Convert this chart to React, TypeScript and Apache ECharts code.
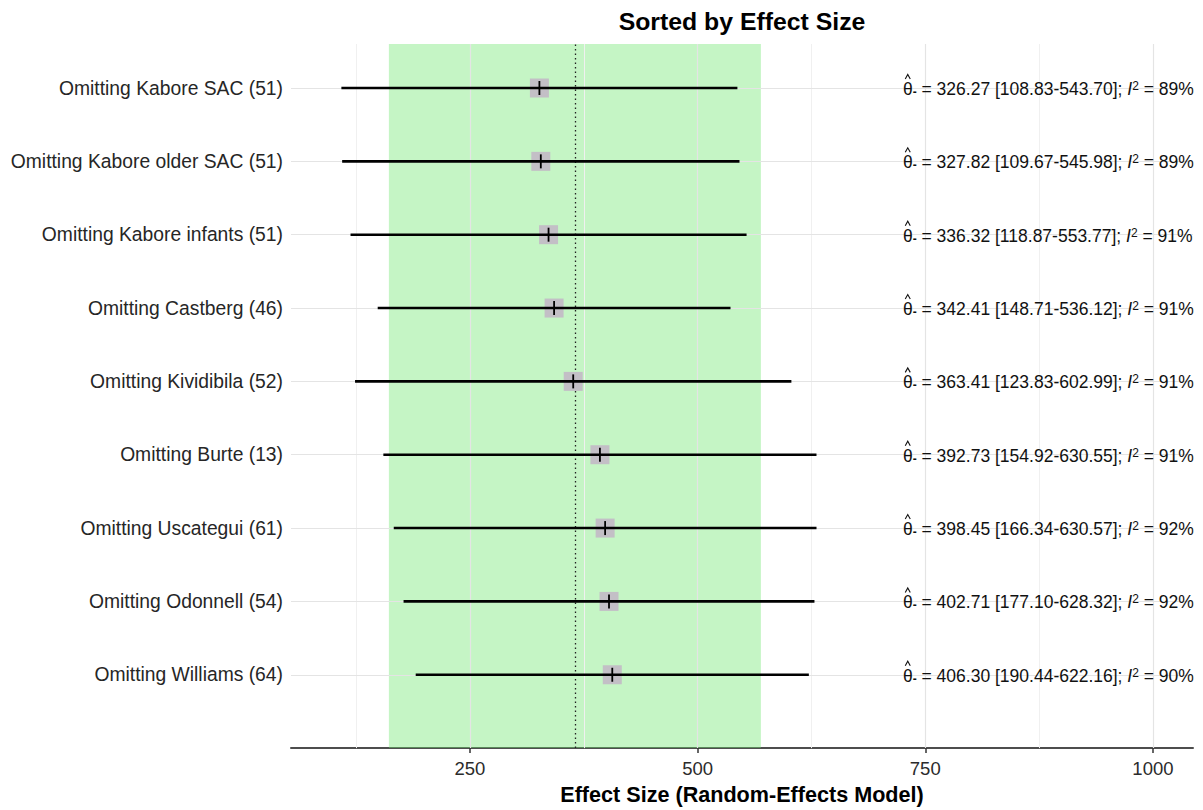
import React, { useEffect, useRef } from "react";
import * as echarts from "echarts";

// ---- data (top row first) ----
const studyLabels = [
  "Omitting Kabore SAC (51)",
  "Omitting Kabore older SAC (51)",
  "Omitting Kabore infants (51)",
  "Omitting Castberg (46)",
  "Omitting Kividibila (52)",
  "Omitting Burte (13)",
  "Omitting Uscategui (61)",
  "Omitting Odonnell (54)",
  "Omitting Williams (64)",
];
const estimates = [326.27, 327.82, 336.32, 342.41, 363.41, 392.73, 398.45, 402.71, 406.3];
const lowerCI = [108.83, 109.67, 118.87, 148.71, 123.83, 154.92, 166.34, 177.1, 190.44];
const upperCI = [543.7, 545.98, 553.77, 536.12, 602.99, 630.55, 630.57, 628.32, 622.16];
const i2Values = [89, 89, 91, 91, 91, 91, 92, 92, 90];

const xTickValues = [250, 500, 750, 1000];
const xMinorGrid = [125, 375, 625, 875];
const pooledEstimate = 366;
const bandRange = [161, 569.5];
const xRange = [53.5, 1044];
const yRange = [0, 9.6];
const annotationX = 725.5;

const FONT = '"Liberation Sans", Arial, Helvetica, sans-serif';

export default function App() {
  const ref = useRef<HTMLDivElement>(null);

  useEffect(() => {
    const chart = echarts.init(ref.current!, null, { renderer: "svg" });
    const n = studyLabels.length;
    const rowY = (i: number) => n - i;
    const labelByRow: Record<number, string> = {};
    studyLabels.forEach((l, i) => (labelByRow[rowY(i)] = l));

    const ciData = studyLabels.map((_, i) => [lowerCI[i], upperCI[i], estimates[i], rowY(i)]);
    const textData = studyLabels.map((_, i) => [annotationX, rowY(i), i]);

    const gridLineData: any[] = [
      ...xMinorGrid.map((v) => ({ xAxis: v, lineStyle: { color: "#f0f0f0", width: 1, type: "solid" } })),
      ...xTickValues.map((v) => ({ xAxis: v, lineStyle: { color: "#e4e4e4", width: 1.2, type: "solid" } })),
      ...studyLabels.map((_, i) => ({ yAxis: rowY(i), lineStyle: { color: "#e4e4e4", width: 1.2, type: "solid" } })),
    ];

    chart.setOption({
      animation: false,
      grid: { left: 291, right: 10, top: 44, bottom: 58 },
      graphic: [
        {
          type: "text",
          x: 742,
          y: 21,
          style: {
            text: "Sorted by Effect Size",
            align: "center",
            verticalAlign: "middle",
            font: `bold 24.8px ${FONT}`,
            fill: "#000",
          },
        },
      ],
      xAxis: {
        type: "value",
        min: xRange[0],
        max: xRange[1],
        name: "Effect Size (Random-Effects Model)",
        nameLocation: "middle",
        nameGap: 32,
        nameTextStyle: { fontFamily: FONT, fontWeight: "bold", fontSize: 21.6, color: "#000" },
        axisLine: { show: true, lineStyle: { color: "#4d4d4d", width: 2 } },
        axisTick: { show: true, customValues: xTickValues, length: 5, lineStyle: { color: "#333", width: 1.5 } },
        axisLabel: {
          customValues: xTickValues,
          margin: 11,
          fontFamily: FONT,
          fontSize: 18.5,
          color: "#2b2b2b",
          formatter: (v: number) => String(v),
        },
        splitLine: { show: false },
      },
      yAxis: {
        type: "value",
        min: yRange[0],
        max: yRange[1],
        interval: 1,
        axisLine: { show: false },
        axisTick: { show: false },
        splitLine: { show: false },
        axisLabel: {
          margin: 8,
          fontFamily: FONT,
          fontSize: 19.3,
          color: "#262626",
          formatter: (v: number) => labelByRow[v] || "",
        },
      },
      series: [
        {
          type: "scatter",
          data: [],
          z: 1,
          silent: true,
          markLine: { silent: true, z: 1, symbol: "none", label: { show: false }, data: gridLineData },
        },
        {
          type: "scatter",
          data: [],
          z: 2,
          silent: true,
          markArea: {
            silent: true,
            z: 1,
            itemStyle: { color: "rgba(110,230,110,0.4)" },
            data: [[{ xAxis: bandRange[0] }, { xAxis: bandRange[1] }]],
          },
        },
        {
          type: "scatter",
          data: [],
          z: 3,
          silent: true,
          markLine: {
            silent: true,
            z: 2,
            symbol: "none",
            label: { show: false },
            lineStyle: { color: "#222", width: 1.3, type: [1.5, 3] },
            data: [{ xAxis: pooledEstimate }],
          },
        },
        {
          type: "custom",
          z: 4,
          silent: true,
          data: ciData,
          encode: { x: [0, 1, 2], y: 3 },
          renderItem: (params: any, api: any) => {
            const lo = api.value(0);
            const hi = api.value(1);
            const est = api.value(2);
            const y = api.value(3);
            const p1 = api.coord([lo, y]);
            const p2 = api.coord([hi, y]);
            const pe = api.coord([est, y]);
            return {
              type: "group",
              children: [
                {
                  type: "rect",
                  shape: { x: pe[0] - 9.5, y: pe[1] - 9.5, width: 19, height: 19 },
                  style: { fill: "#c3bfc6" },
                },
                {
                  type: "line",
                  shape: { x1: p1[0], y1: p1[1], x2: p2[0], y2: p2[1] },
                  style: { stroke: "#000", lineWidth: 2.6 },
                },
                {
                  type: "line",
                  shape: { x1: pe[0], y1: pe[1] - 7, x2: pe[0], y2: pe[1] + 7 },
                  style: { stroke: "#000", lineWidth: 1.8 },
                },
              ],
            };
          },
        },
        {
          type: "custom",
          z: 5,
          silent: true,
          data: textData,
          encode: { x: 0, y: 1 },
          renderItem: (params: any, api: any) => {
            const i = api.value(2);
            const p = api.coord([api.value(0), api.value(1)]);
            const txt =
              `{th|\u03B8}{sub|-} = ${estimates[i].toFixed(2)} [${lowerCI[i].toFixed(2)}-${upperCI[i].toFixed(2)}]; ` +
              `{it|I}{sup|2} = ${i2Values[i]}%`;
            return {
              type: "group",
              children: [
                {
                  type: "text",
                  x: p[0],
                  y: p[1] + 1,
                  style: {
                    text: txt,
                    align: "left",
                    verticalAlign: "middle",
                    fontFamily: FONT,
                    fontSize: 17.5,
                    fill: "#111",
                    rich: {
                      th: { fontFamily: FONT, fontSize: 17.5, fill: "#111" },
                      sub: { fontFamily: FONT, fontSize: 12, fontWeight: "bold", fill: "#111", verticalAlign: "bottom" },
                      it: { fontFamily: FONT, fontSize: 17.5, fontStyle: "italic", fill: "#111" },
                      sup: { fontFamily: FONT, fontSize: 12, fill: "#111", verticalAlign: "top" },
                    },
                  },
                },
                {
                  type: "polyline",
                  shape: {
                    points: [
                      [p[0] + 2.3, p[1] - 9],
                      [p[0] + 4.8, p[1] - 13.5],
                      [p[0] + 7.3, p[1] - 9],
                    ],
                  },
                  style: { stroke: "#111", lineWidth: 1.1, fill: "none" },
                },
              ],
            };
          },
        },
      ],
    });

    return () => chart.dispose();
  }, []);

  return (
    <div
      ref={ref}
      style={{ position: "fixed", left: 0, top: 0, width: 1203, height: 810, background: "#fff" }}
    />
  );
}
